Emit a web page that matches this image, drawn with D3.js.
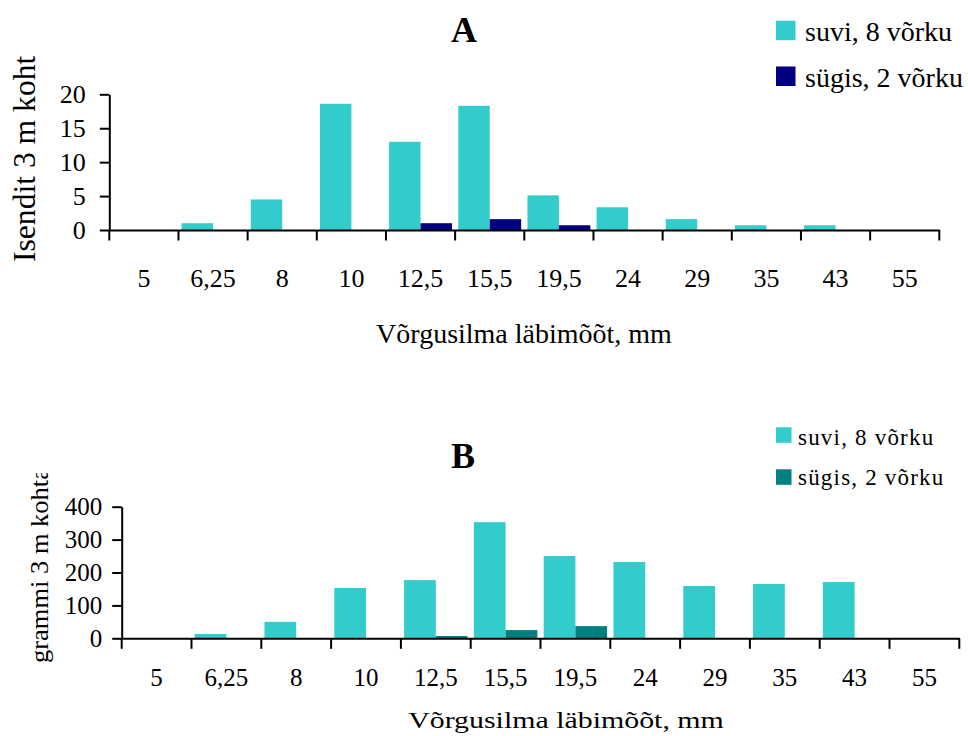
<!DOCTYPE html>
<html>
<head>
<meta charset="utf-8">
<script src="https://cdn.jsdelivr.net/npm/d3@7"></script>
<style>
  html, body { margin: 0; padding: 0; background: #fff; }
  svg { display: block; }
  text { font-family: "Times New Roman", "Liberation Serif", "DejaVu Serif", serif; fill: #000; }
</style>
</head>
<body>
<svg id="chart" width="968" height="736"></svg>
<script>
// ---- data ----
const categories = ["5", "6,25", "8", "10", "12,5", "15,5", "19,5", "24", "29", "35", "43", "55"];
const seriesNames = ["suvi, 8 võrku", "sügis, 2 võrku"];
const countSummer = [0, 1.0, 4.5, 18.6, 13.0, 18.3, 5.1, 3.35, 1.6, 0.7, 0.7, 0];
const countAutumn = [0, 0, 0, 0, 1.0, 1.6, 0.7, 0, 0, 0, 0, 0];
const weightSummer = [0, 13, 50, 153, 177, 353, 250, 232, 159, 165, 171, 0];
const weightAutumn = [0, 0, 0, 0, 7, 25, 37, 0, 0, 0, 0, 0];
const ticksA = [0, 5, 10, 15, 20];
const ticksB = [0, 100, 200, 300, 400];
const xTitle = "Võrgusilma läbimõõt, mm";
const yTitleA = "Isendit 3 m kohta";
const yTitleB = "grammi 3 m kohta";

const svg = d3.select("#chart");

function panel(cfg) {
  const g = svg.append("g");
  const x = d3.scaleBand().domain(categories).range([cfg.x0, cfg.x1]).paddingInner(0).paddingOuter(0);
  const y = d3.scaleLinear().domain([0, cfg.ymax]).range([cfg.yBase, cfg.yTop]);
  const inner = d3.scaleBand().domain(seriesNames).range([0, x.bandwidth()]).paddingInner(0).paddingOuter(0.1);
  const colors = {};
  colors[seriesNames[0]] = cfg.colors[0];
  colors[seriesNames[1]] = cfg.colors[1];

  const rows = categories.map((c, i) => ({ c, vals: [
    { s: seriesNames[0], v: cfg.s1[i] },
    { s: seriesNames[1], v: cfg.s2[i] }
  ]}));

  // bars
  g.append("g").selectAll("g").data(rows).join("g")
    .attr("transform", d => `translate(${x(d.c)},0)`)
    .selectAll("rect").data(d => d.vals.filter(v => v.v > 0)).join("rect")
    .attr("x", d => inner(d.s))
    .attr("width", inner.bandwidth())
    .attr("y", d => y(d.v))
    .attr("height", d => y(0) - y(d.v))
    .attr("fill", d => colors[d.s]);

  // y axis
  const ya = g.append("g").attr("transform", `translate(${cfg.x0},0)`)
    .call(d3.axisLeft(y).tickValues(cfg.ticks).tickSize(cfg.tickLen).tickPadding(cfg.yPad).tickSizeOuter(0));
  ya.select(".domain").attr("stroke", "#000").attr("stroke-width", 2);
  ya.selectAll(".tick line").attr("stroke", "#000").attr("stroke-width", 2);
  ya.selectAll(".tick text").attr("font-size", cfg.yFont).attr("fill", "#000")
    .style("font-family", '"Times New Roman", "Liberation Serif", serif');

  // x axis (labels at band centres)
  const xa = g.append("g").attr("transform", `translate(0,${cfg.yBase})`)
    .call(d3.axisBottom(x).tickSize(0).tickPadding(0).tickSizeOuter(0));
  xa.select(".domain").attr("stroke", "#000").attr("stroke-width", 2);
  xa.selectAll(".tick text").attr("font-size", cfg.xFont).attr("fill", "#000")
    .attr("dy", null).attr("y", cfg.xLabelY)
    .style("font-family", '"Times New Roman", "Liberation Serif", serif');
  // boundary ticks
  const bounds = categories.map(c => x(c)).concat([x.range()[1]]);
  g.append("g").selectAll("line").data(bounds).join("line")
    .attr("x1", d => d).attr("x2", d => d)
    .attr("y1", cfg.yBase).attr("y2", cfg.yBase + cfg.tickLen + 1)
    .attr("stroke", "#000").attr("stroke-width", 2);

  // title
  g.append("text").attr("x", cfg.titleX).attr("y", cfg.titleY)
    .attr("text-anchor", "middle").attr("font-size", 36).attr("font-weight", "bold").text(cfg.title);

  // x title
  g.append("text").attr("transform", `translate(${cfg.xtX},${cfg.xtY}) scale(${cfg.xtScale},1)`)
    .attr("text-anchor", "middle").attr("font-size", cfg.xtFont).text(xTitle);

  // y title (clipped at top)
  const clipId = "clip" + cfg.title;
  svg.append("clipPath").attr("id", clipId).append("rect")
    .attr("x", 0).attr("y", cfg.ytClip).attr("width", 80).attr("height", 736);
  g.append("g").attr("clip-path", `url(#${clipId})`)
    .append("text").attr("transform", `translate(${cfg.ytX},${cfg.ytY}) rotate(-90) scale(${cfg.ytScale},1)`)
    .attr("text-anchor", "start").attr("font-size", cfg.ytFont).text(cfg.yTitle);

  // legend
  const lg = g.append("g");
  seriesNames.forEach((s, i) => {
    lg.append("rect").attr("x", cfg.legX).attr("y", cfg.legY[i])
      .attr("width", cfg.legSq).attr("height", cfg.legSq).attr("fill", cfg.colors[i]);
    lg.append("text").attr("x", cfg.legTX).attr("y", cfg.legTY[i])
      .attr("font-size", cfg.legFont).attr("letter-spacing", cfg.legLS).text(s);
  });
}

panel({
  title: "A", titleX: 464, titleY: 42,
  x0: 109.3, x1: 939.3, yBase: 230, yTop: 94.3, ymax: 20,
  s1: countSummer, s2: countAutumn, colors: ["#33CCCC", "#000080"],
  ticks: ticksA, tickLen: 9.5, yPad: 14, yFont: 26, xFont: 26, xLabelY: 56.5,
  xtX: 524, xtY: 343, xtScale: 1, xtFont: 28,
  yTitle: yTitleA, ytX: 35, ytY: 262, ytClip: 55, ytFont: 31, ytScale: 1.02,
  legX: 776, legY: [20.7, 66.5], legSq: 19.5, legTX: 805, legTY: [41, 86.5], legFont: 28, legLS: 0
});

panel({
  title: "B", titleX: 463, titleY: 467.5,
  x0: 121.7, x1: 959.3, yBase: 638.3, yTop: 506.7, ymax: 400,
  s1: weightSummer, s2: weightAutumn, colors: ["#33CCCC", "#008080"],
  ticks: ticksB, tickLen: 9.5, yPad: 10, yFont: 25, xFont: 25, xLabelY: 48,
  xtX: 566, xtY: 728, xtScale: 1.3, xtFont: 23,
  yTitle: yTitleB, ytX: 48, ytY: 663, ytClip: 473, ytFont: 25, ytScale: 1.06,
  legX: 776, legY: [427.3, 469.3], legSq: 15.5, legTX: 798, legTY: [445, 485], legFont: 23, legLS: 1.2
});
</script>
</body>
</html>
